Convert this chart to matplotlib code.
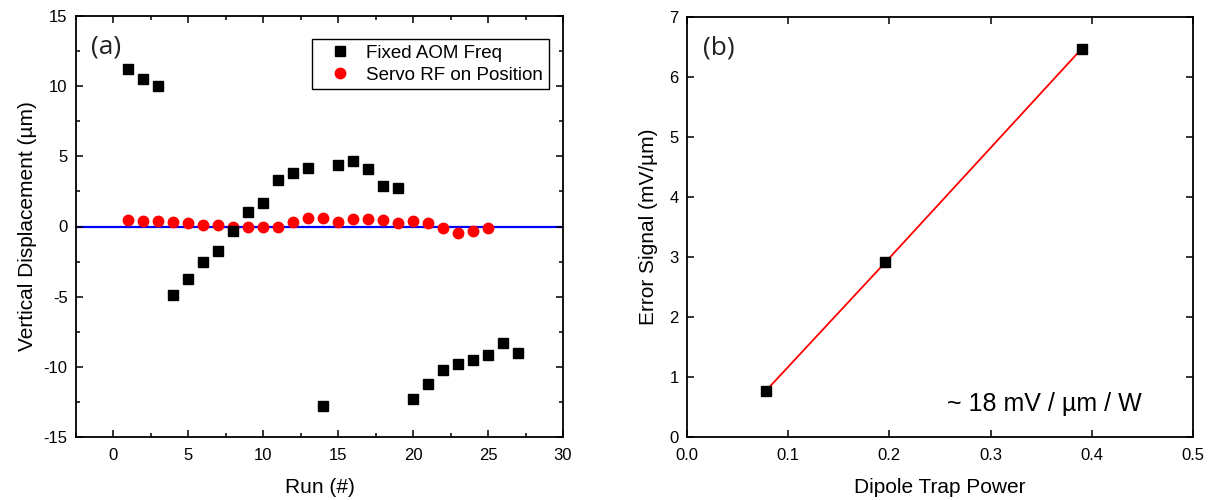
import matplotlib
matplotlib.use("Agg")
import matplotlib.pyplot as plt
from matplotlib.ticker import MultipleLocator

plt.rcParams['font.family'] = ['Liberation Sans', 'DejaVu Sans']
plt.rcParams['axes.unicode_minus'] = False

# panel (a): vertical displacement per run
runs_fixed = list(range(1, 28))
disp_fixed = [11.2, 10.5, 10.0, -4.9, -3.75, -2.5, -1.75, -0.3, 1.05, 1.7,
              3.3, 3.8, 4.15, -12.8, 4.35, 4.65, 4.1, 2.9, 2.75, -12.3,
              -11.2, -10.2, -9.8, -9.5, -9.15, -8.3, -9.0]
runs_servo = list(range(1, 26))
disp_servo = [0.48, 0.42, 0.38, 0.3, 0.28, 0.1, 0.12, 0.0, -0.06, -0.07,
              -0.04, 0.3, 0.6, 0.6, 0.3, 0.55, 0.52, 0.43, 0.24, 0.36,
              0.27, -0.12, -0.43, -0.3, -0.14]

# panel (b): error signal vs dipole trap power
power = [0.078, 0.196, 0.390]
error_signal = [0.77, 2.91, 6.47]

fig = plt.figure(figsize=(12.32, 5.0), dpi=100)
ax1 = fig.add_axes([0.0617, 0.126, 0.3953, 0.842])
ax2 = fig.add_axes([0.5576, 0.126, 0.4107, 0.840])

for ax in (ax1, ax2):
    for s in ax.spines.values():
        s.set_linewidth(1.3)
    ax.tick_params(which='both', direction='in', top=True, right=True,
                   labelsize=12, width=1.1)
    ax.tick_params(which='major', length=5)
    ax.tick_params(which='minor', length=3)
    ax.tick_params(axis='x', pad=8)
    ax.tick_params(axis='y', pad=6)

ax1.axhline(0, color='#0000ff', lw=1.6, zorder=1)
ax1.plot(runs_fixed, disp_fixed, 's', color='black', ms=6.5, ls='none',
         label='Fixed AOM Freq', zorder=3)
ax1.plot(runs_servo, disp_servo, 'o', color='#ff0000', ms=7.5, ls='none',
         label='Servo RF on Position', zorder=2)
ax1.set_xlim(-2.5, 30)
ax1.set_ylim(-15, 15)
ax1.xaxis.set_major_locator(MultipleLocator(5))
ax1.xaxis.set_minor_locator(MultipleLocator(2.5))
ax1.yaxis.set_major_locator(MultipleLocator(5))
ax1.yaxis.set_minor_locator(MultipleLocator(2.5))
ax1.set_xlabel('Run (#)', fontsize=15, labelpad=11)
ax1.set_ylabel('Vertical Displacement (µm)', fontsize=15, labelpad=5)
leg = ax1.legend(loc='upper right', bbox_to_anchor=(0.971, 0.945),
                 borderaxespad=0, fontsize=13.5, frameon=True, fancybox=False,
                 framealpha=1, edgecolor='black', handletextpad=0.2,
                 borderpad=0.3, labelspacing=0.25, handlelength=2.4)
leg.get_frame().set_linewidth(1.0)
ax1.text(0.031, 0.911, '(a)', transform=ax1.transAxes, fontsize=19,
         family=['Open Sans', 'DejaVu Sans'], va='baseline', color='#222222')

ax2.plot(power, error_signal, '-', color='#ff0000', lw=1.3, zorder=2)
ax2.plot(power, error_signal, 's', color='black', ms=6.5, zorder=3)
ax2.set_xlim(0, 0.5)
ax2.set_ylim(0, 7)
ax2.xaxis.set_major_locator(MultipleLocator(0.1))
ax2.yaxis.set_major_locator(MultipleLocator(1))
ax2.xaxis.set_major_formatter(plt.FormatStrFormatter('%.1f'))
ax2.set_xlabel('Dipole Trap Power', fontsize=15, labelpad=11)
ax2.set_ylabel('Error Signal (mV/µm)', fontsize=15, labelpad=8)
ax2.text(0.032, 0.911, '(b)', transform=ax2.transAxes, fontsize=19,
         family=['Open Sans', 'DejaVu Sans'], va='baseline', color='#222222')
ax2.text(0.514, 0.063, '~ 18 mV / µm / W', transform=ax2.transAxes,
         fontsize=18, va='baseline')

fig.savefig('out.png', dpi=100)
